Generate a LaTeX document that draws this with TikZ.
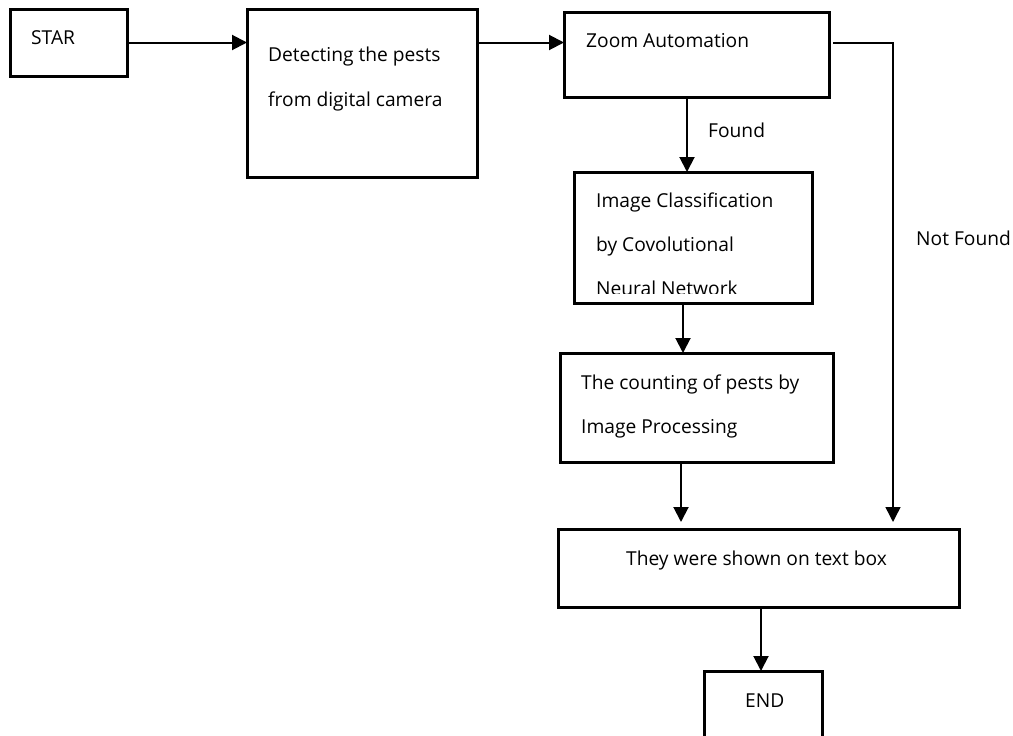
\documentclass[tikz,border=0pt]{standalone}
\usepackage{fontspec}
\setmainfont{Open Sans}
\usetikzlibrary{arrows.meta,calc}
\begin{document}
\begin{tikzpicture}[x=1pt,y=-1pt,
  box/.style={draw=black,line width=3pt,inner sep=0pt,outer sep=0pt,fill=none},
  txt/.style={anchor=base west,inner sep=0pt,font=\fontsize{19.2}{23}\selectfont},
  conn/.style={draw=black,line width=2pt,-{Triangle[length=15pt,width=15pt]}},
  thin conn/.style={draw=black,line width=1.5pt,-{Triangle[length=15pt,width=15pt]}}]
\useasboundingbox (0,0) rectangle (1013,736);
\clip (0,0) rectangle (1013,736);
\fill[white] (0,0) rectangle (1013,736);

% process boxes
\node[box,minimum width=117pt,minimum height=67pt] (star) at (68.5,42.5) {};
\node[box,minimum width=230pt,minimum height=168pt] (detect) at (362,93) {};
\node[box,minimum width=265pt,minimum height=85pt] (zoom) at (696.5,54.5) {};
\node[box,minimum width=238pt,minimum height=131pt] (classify) at (693,237.5) {};
\node[box,minimum width=273pt,minimum height=109pt] (count) at (696.5,407.5) {};
\node[box,minimum width=401pt,minimum height=78pt] (shown) at (758.5,568) {};
\node[box,minimum width=118pt,minimum height=90pt] (end) at (763,716) {};

% box texts, one node per line
\node[txt] (tstar) at (31,45) {STAR};
\node[txt] (tdetecta) at (268,61) {Detecting the pests};
\node[txt] (tdetectb) at (268,106) {from digital camera};
\node[txt] (tzoom) at (586,47) {Zoom Automation};
\begin{scope}
  \clip (575,173) rectangle (811,293);
  \node[txt] (tclassa) at (596,207) {Image Classification};
  \node[txt] (tclassb) at (596,251) {by Covolutional};
  \node[txt] (tclassc) at (596,295) {Neural Network};
\end{scope}
\node[txt] (tcounta) at (581,389) {The counting of pests by};
\node[txt] (tcountb) at (581,433) {Image Processing};
\node[txt] (tshown) at (626,565) {They were shown on text box};
\node[txt] (tend) at (745,707) {END};

% branch labels
\node[txt] (lfound) at (708,137) {Found};
\node[txt] (lnotfound) at (916,245) {Not Found};

% connectors
\draw[conn] (star.east) -- (star.east -| detect.west);
\draw[conn] (star.east -| detect.east) -- (star.east -| zoom.west);
\draw[conn] ([xshift=-9.5pt]zoom.south) -- ([xshift=-9.5pt]zoom.south |- classify.north);
\draw[conn] ([xshift=-10pt]classify.south) -- ([xshift=-10pt]classify.south |- count.north);
\draw[conn,shorten >=7pt] ([xshift=-15.5pt]count.south) -- ([xshift=-15.5pt]count.south |- shown.north);
\coordinate (nfturn) at (893,43);
\draw[thin conn,shorten >=7pt] ([xshift=4pt,yshift=11.5pt]zoom.east) -- (nfturn) -- (nfturn |- shown.north);
\draw[conn] ([xshift=2.5pt]shown.south) -- ([xshift=2.5pt]shown.south |- end.north);
\end{tikzpicture}
\end{document}
